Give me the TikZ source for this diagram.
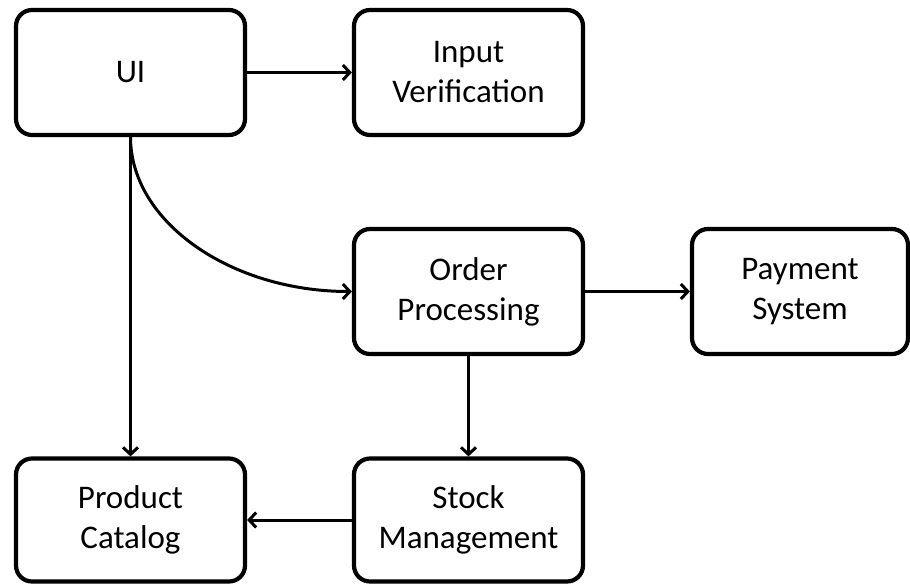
\documentclass[tikz,border=0pt]{standalone}
\usepackage{fontspec}
\setmainfont{Carlito}
\usetikzlibrary{arrows.meta}

\begin{document}
\begin{tikzpicture}[x=1pt, y=-1pt,
  module/.style={draw, line width=4.2pt, rounded corners=16pt, minimum width=229pt, minimum height=125pt, align=center, font=\fontsize{33}{40}\selectfont},
  link/.style={line width=3pt, -{Straight Barb[length=7pt,width=15pt]}}]
\useasboundingbox (0,0) rectangle (910,584);

\node (ui) [module] at (130.5,72.5) {UI};
\node (input verification) [module] at (468.5,72.5) {Input\\Verification};
\node (order processing) [module] at (468.5,291.5) {Order\\Processing};
\node (payment system) [module, minimum width=216pt] at (800,291.5) {Payment\\System};
\node (product catalog) [module, minimum height=123pt] at (130.5,520) {Product\\Catalog};
\node (stock management) [module, minimum height=123pt] at (468.5,520) {Stock\\Management};

\draw [link] (ui.east) -- (input verification.west);
\draw [link] (ui.south) -- (product catalog.north);
\draw [link] (ui.south) to[out=-90, in=180, out looseness=0.8, in looseness=1.15] (order processing.west);
\draw [link] (order processing.east) -- (payment system.west);
\draw [link] (order processing.south) -- (stock management.north);
\draw [link] (stock management.west) -- (product catalog.east);

\end{tikzpicture}
\end{document}
